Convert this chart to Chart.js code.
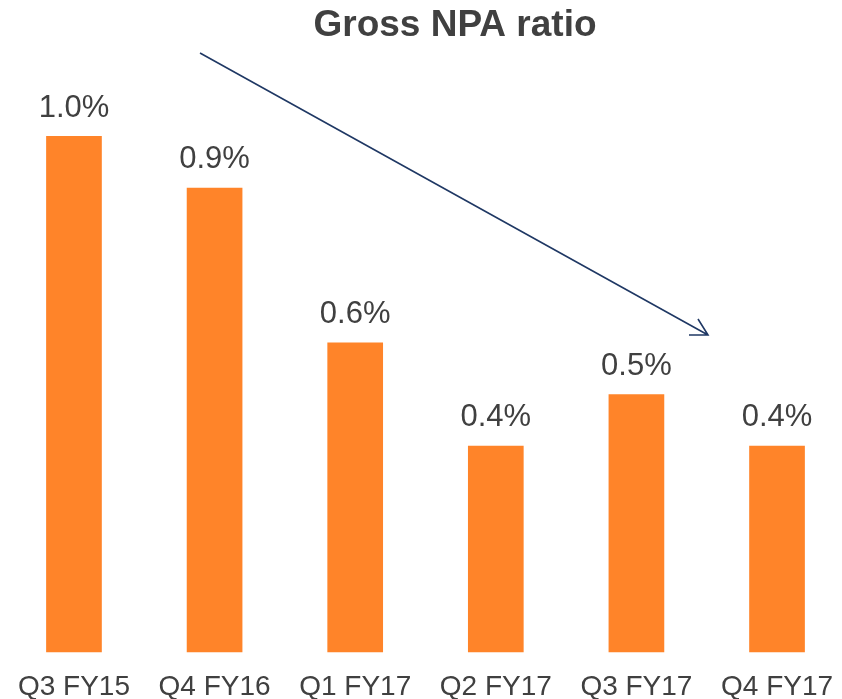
<!DOCTYPE html>
<html>
<head>
<meta charset="utf-8">
<script src="https://cdn.jsdelivr.net/npm/chart.js@4"></script>
<style>
    html, body { margin: 0; padding: 0; background: #fff; overflow: hidden; }
    #wrap { position: absolute; left: 0; top: 0; width: 851px; height: 722px; }
</style>
</head>
<body>
<div id="wrap"><canvas id="npaChart" width="851" height="722"></canvas></div>
<script>
// chart data
var quarters = ['Q3 FY15', 'Q4 FY16', 'Q1 FY17', 'Q2 FY17', 'Q3 FY17', 'Q4 FY17'];
var grossNpa = [1.0, 0.9, 0.6, 0.4, 0.5, 0.4];
var chartTitle = 'Gross NPA ratio';

var textColor = '#404040';

// title, value labels and the trend arrow
var extras = {
    id: 'extras',
    afterDatasetsDraw: function (chart) {
        var ctx = chart.ctx;
        ctx.save();
        ctx.fillStyle = textColor;
        ctx.textAlign = 'center';
        ctx.textBaseline = 'middle';

        ctx.font = 'bold 37px "Liberation Sans", Arial, sans-serif';
        ctx.fillText(chartTitle, 455, 26);

        ctx.font = '31px "Liberation Sans", Arial, sans-serif';
        chart.getDatasetMeta(0).data.forEach(function (bar, i) {
            ctx.fillText(grossNpa[i].toFixed(1) + '%', bar.x, bar.y - 28);
        });

        // downward trend arrow
        ctx.strokeStyle = '#1F3864';
        ctx.lineWidth = 1.6;
        ctx.beginPath();
        ctx.moveTo(200, 53);
        ctx.lineTo(708, 335);
        ctx.moveTo(698, 319);
        ctx.lineTo(708, 335);
        ctx.lineTo(689, 335);
        ctx.stroke();
        ctx.restore();
    }
};

var ctx = document.getElementById('npaChart').getContext('2d');
var npaChart = new Chart(ctx, {
    type: 'bar',
    data: {
        labels: quarters,
        datasets: [{
            data: grossNpa,
            backgroundColor: '#FF8429',
            borderWidth: 0,
            categoryPercentage: 1,
            barPercentage: 0.396
        }]
    },
    options: {
        responsive: false,
        animation: false,
        layout: { padding: { left: 3, right: 0, top: 32.8, bottom: 0 } },
        plugins: {
            legend: { display: false },
            tooltip: { enabled: false }
        },
        scales: {
            x: {
                grid: { display: false, drawTicks: false },
                border: { display: false },
                ticks: {
                    color: textColor,
                    padding: 18,
                    maxRotation: 0,
                    font: { family: '"Liberation Sans", Arial, sans-serif', size: 28 }
                }
            },
            y: {
                display: false,
                min: 0,
                max: 1.2
            }
        }
    },
    plugins: [extras]
});
</script>
</body>
</html>
